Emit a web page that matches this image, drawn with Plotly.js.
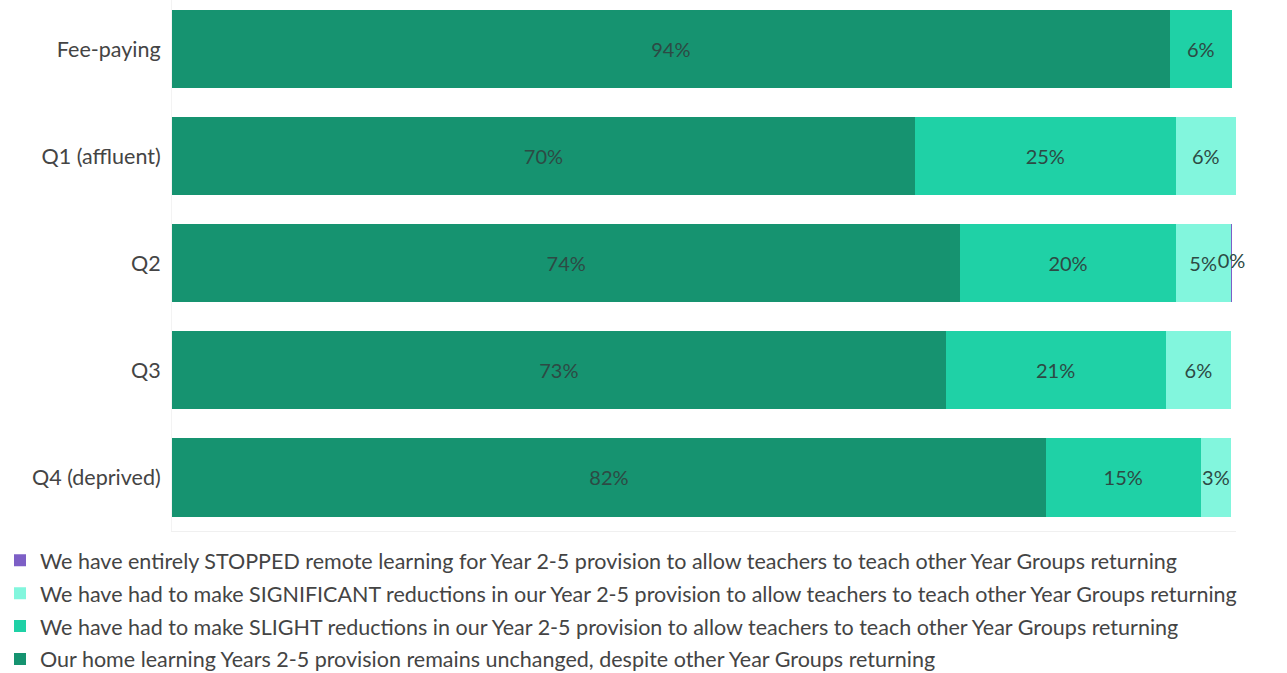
<!DOCTYPE html>
<html>
<head>
<meta charset="utf-8">
<script src="https://cdn.plot.ly/plotly-3.0.1.min.js"></script>
<style>html,body{margin:0;padding:0;background:#fff;}#chart{width:1287px;height:673px;}</style>
</head>
<body>
<div id="chart"></div>
<script>
const categories = ["Fee-paying", "Q1 (affluent)", "Q2", "Q3", "Q4 (deprived)"];
const seriesNames = [
  "Our home learning Years 2-5 provision remains unchanged, despite other Year Groups returning",
  "We have had to make SLIGHT reductions in our Year 2-5 provision to allow teachers to teach other Year Groups returning",
  "We have had to make SIGNIFICANT reductions in our Year 2-5 provision to allow teachers to teach other Year Groups returning",
  "We have entirely STOPPED remote learning for Year 2-5 provision to allow teachers to teach other Year Groups returning"
];
const unchanged   = [94.15, 70.1, 74.4, 73.0, 82.45];
const slight      = [5.85, 24.6, 20.3, 20.75, 14.6];
const significant = [null, 5.7, 5.2, 6.2, 2.9];
const stopped     = [null, null, 0.15, null, null];
const colors = ["#169370", "#1fd1a6", "#82f6dd", "#7d5fc6"];

const seriesValues = [unchanged, slight, significant, stopped];
const textFont = {family: "Lato, sans-serif", size: 20, color: "#2d4a44"};
const traces = seriesValues.map((vals, i) => ({
  type: "bar",
  orientation: "h",
  name: seriesNames[i],
  legendgroup: "g" + i,
  legendrank: 4 - i,
  y: categories,
  x: vals,
  marker: {color: colors[i], line: {width: 0}},
  texttemplate: "%{x:.0f}%",
  textposition: i === 3 ? "none" : "inside",
  insidetextanchor: "middle",
  textangle: 0,
  constraintext: "none",
  cliponaxis: false,
  textfont: textFont,
  hoverinfo: "x+name"
}));

// label for the thin "stopped" segment, placed at its centre via the data
const stoppedLabelX = [], stoppedLabelY = [], stoppedLabelText = [];
categories.forEach((c, j) => {
  if (stopped[j] !== null) {
    const start = (unchanged[j] || 0) + (slight[j] || 0) + (significant[j] || 0);
    stoppedLabelX.push(start + stopped[j] / 2);
    stoppedLabelY.push(c);
    stoppedLabelText.push(Math.round(stopped[j]) + "%");
  }
});
traces.push({
  type: "scatter",
  mode: "text",
  x: stoppedLabelX,
  y: stoppedLabelY,
  text: stoppedLabelText,
  textposition: "middle center",
  textfont: textFont,
  showlegend: false,
  cliponaxis: false,
  hoverinfo: "skip"
});

const layout = {
  width: 1287,
  height: 673,
  barmode: "stack",
  bargap: 0.27,
  margin: {l: 172, r: 51, t: 0, b: 142, autoexpand: false},
  paper_bgcolor: "#ffffff",
  plot_bgcolor: "#ffffff",
  font: {family: "Lato, sans-serif", color: "#444"},
  xaxis: {
    range: [0, 100.4],
    showgrid: false,
    zeroline: false,
    showticklabels: false,
    showline: true,
    linecolor: "#f0f0f0",
    linewidth: 1,
    automargin: false,
    fixedrange: true
  },
  yaxis: {
    type: "category",
    range: [4.5, -0.458],
    showgrid: false,
    zeroline: false,
    showline: true,
    linecolor: "#f3f3f3",
    ticks: "",
    ticklabelstandoff: 6,
    automargin: false,
    tickfont: {family: "Lato, sans-serif", size: 21.5, color: "#444"},
    fixedrange: true
  },
  showlegend: true,
  legend: {
    orientation: "v",
    traceorder: "grouped",
    xref: "container",
    yref: "container",
    x: 0.0,
    xanchor: "left",
    y: 0.198,
    yanchor: "top",
    font: {family: "Lato, sans-serif", size: 21.5, color: "#444"},
    tracegroupgap: 2,
    bgcolor: "rgba(0,0,0,0)"
  }
};

Plotly.newPlot("chart", traces, layout, {displayModeBar: false, staticPlot: true});
</script>
</body>
</html>
